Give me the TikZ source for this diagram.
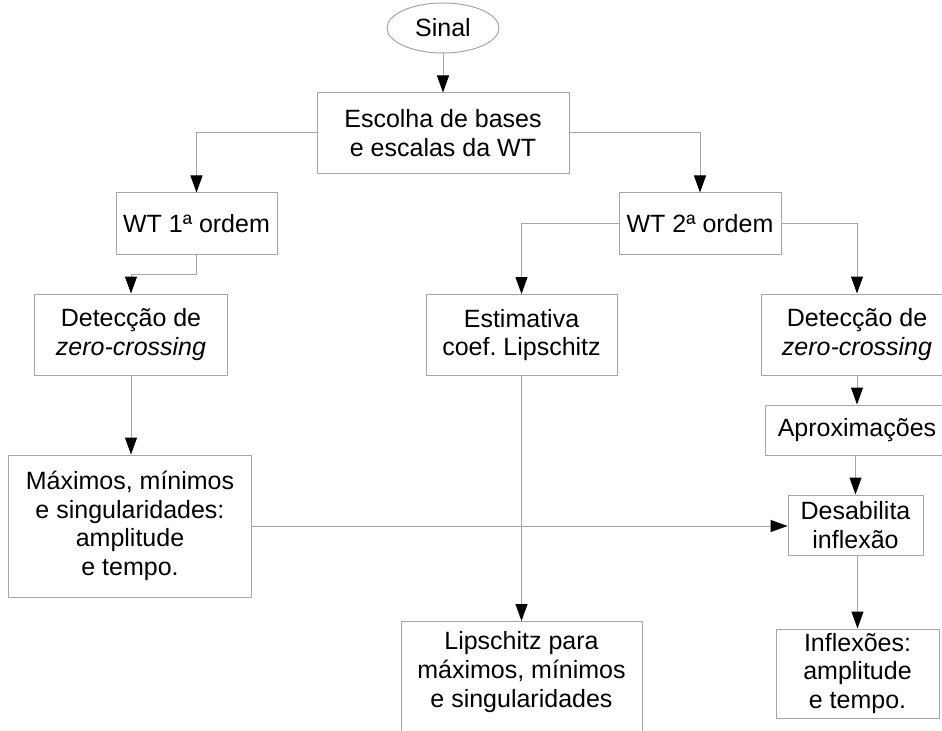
\documentclass[tikz,border=0pt]{standalone}
\usepackage{fontspec}
\setmainfont{Liberation Sans}
\usetikzlibrary{shapes.geometric,arrows.meta}

\tikzset{
  txt/.style={font=\fontsize{25bp}{28.7bp}\selectfont, align=center, inner sep=0pt},
  blk/.style={txt, rectangle, draw=black!35, line width=1bp},
  link/.style={->, draw=black!35, line width=1bp}
}

\begin{document}
\begin{tikzpicture}[>={Triangle[length=17bp,width=12bp,color=black]},line join=bevel,x=1bp,y=-1bp]
  \useasboundingbox (0,0) rectangle (942,731);
  \clip (0,0) rectangle (942,731);
%%
  % Node: Sinal
  \node (sinal) [txt, ellipse, draw=black!35, line width=1bp, minimum width=112bp, minimum height=50bp] at (443,28) {Sinal};
  % Node: Escolha de bases
  \node (escolha) [blk, minimum width=252bp, minimum height=80bp] at (443,133) {Escolha de bases\\ e escalas da WT};
  % Node: WT 1a ordem
  \node (wt1) [blk, minimum width=161bp, minimum height=61bp] at (196.5,223.5) {WT 1ª ordem};
  % Node: WT 2a ordem
  \node (wt2) [blk, minimum width=162bp, minimum height=61bp] at (700,223.5) {WT 2ª ordem};
  % Node: Deteccao (1a ordem)
  \node (det1) [blk, minimum width=192bp, minimum height=81bp] at (131,334.5) {Detecção de\\ \textit{zero-crossing}};
  % Node: Estimativa
  \node (estim) [blk, minimum width=191bp, minimum height=81bp] at (521.5,335) {Estimativa\\ coef.\ Lipschitz};
  % Node: Deteccao (2a ordem)
  \node (det2) [blk, minimum width=192bp, minimum height=81bp] at (857,334.5) {Detecção de\\ \textit{zero-crossing}};
  % Node: Aproximacoes
  \node (aprox) [blk, minimum width=184bp, minimum height=50bp] at (857,430) {Aproximações};
  % Node: Maximos, minimos
  \node (maxim) [blk, minimum width=242bp, minimum height=142bp] at (130,526) {Máximos, mínimos\\ e singularidades:\\ amplitude\\ e tempo.};
  % Node: Desabilita inflexao
  \node (desab) [blk, minimum width=135bp, minimum height=60bp] at (855.5,525) {Desabilita\\ inflexão};
  % Node: Lipschitz para
  \node (lips) [blk, anchor=north, inner ysep=10bp, minimum width=241bp, text depth=45bp] at (521.5,621) {Lipschitz para\\ máximos, mínimos\\ e singularidades};
  % Node: Inflexoes
  \node (inflex) [blk, minimum width=163bp, minimum height=89bp] at (857.5,673.5) {Inflexões:\\ amplitude\\ e tempo.};
%%
  % Edge: Sinal -> Escolha
  \draw [link] (sinal) -- (escolha);
  % Edge: Escolha -> WT 1a ordem
  \draw [link] (escolha.west) -| (wt1.north);
  % Edge: Escolha -> WT 2a ordem
  \draw [link] (escolha.east) -| (wt2.north);
  % Edge: WT 1a ordem -> Deteccao
  \draw [link] (wt1.south) -- ++(0,20) -| (det1.north);
  % Edge: WT 2a ordem -> Estimativa
  \draw [link] (wt2.west) -| (estim.north);
  % Edge: WT 2a ordem -> Deteccao
  \draw [link] (wt2.east) -| (det2.north);
  % Edge: Deteccao -> Maximos
  \draw [link] (det1.south) -- (det1.south |- maxim.north);
  % Edge: Estimativa -> Lipschitz para
  \draw [link] (estim.south) -- (estim.south |- lips.north);
  % Edge: Deteccao -> Aproximacoes
  \draw [link] (det2.south) -- (aprox.north);
  % Edge: Aproximacoes -> Desabilita
  \draw [link] (desab.north |- aprox.south) -- (desab.north);
  % Edge: Maximos -> Desabilita
  \draw [link] (maxim.east) -- (maxim.east -| desab.west);
  % Edge: Desabilita -> Inflexoes
  \draw [link] (inflex.north |- desab.south) -- (inflex.north);
%
\end{tikzpicture}
\end{document}
